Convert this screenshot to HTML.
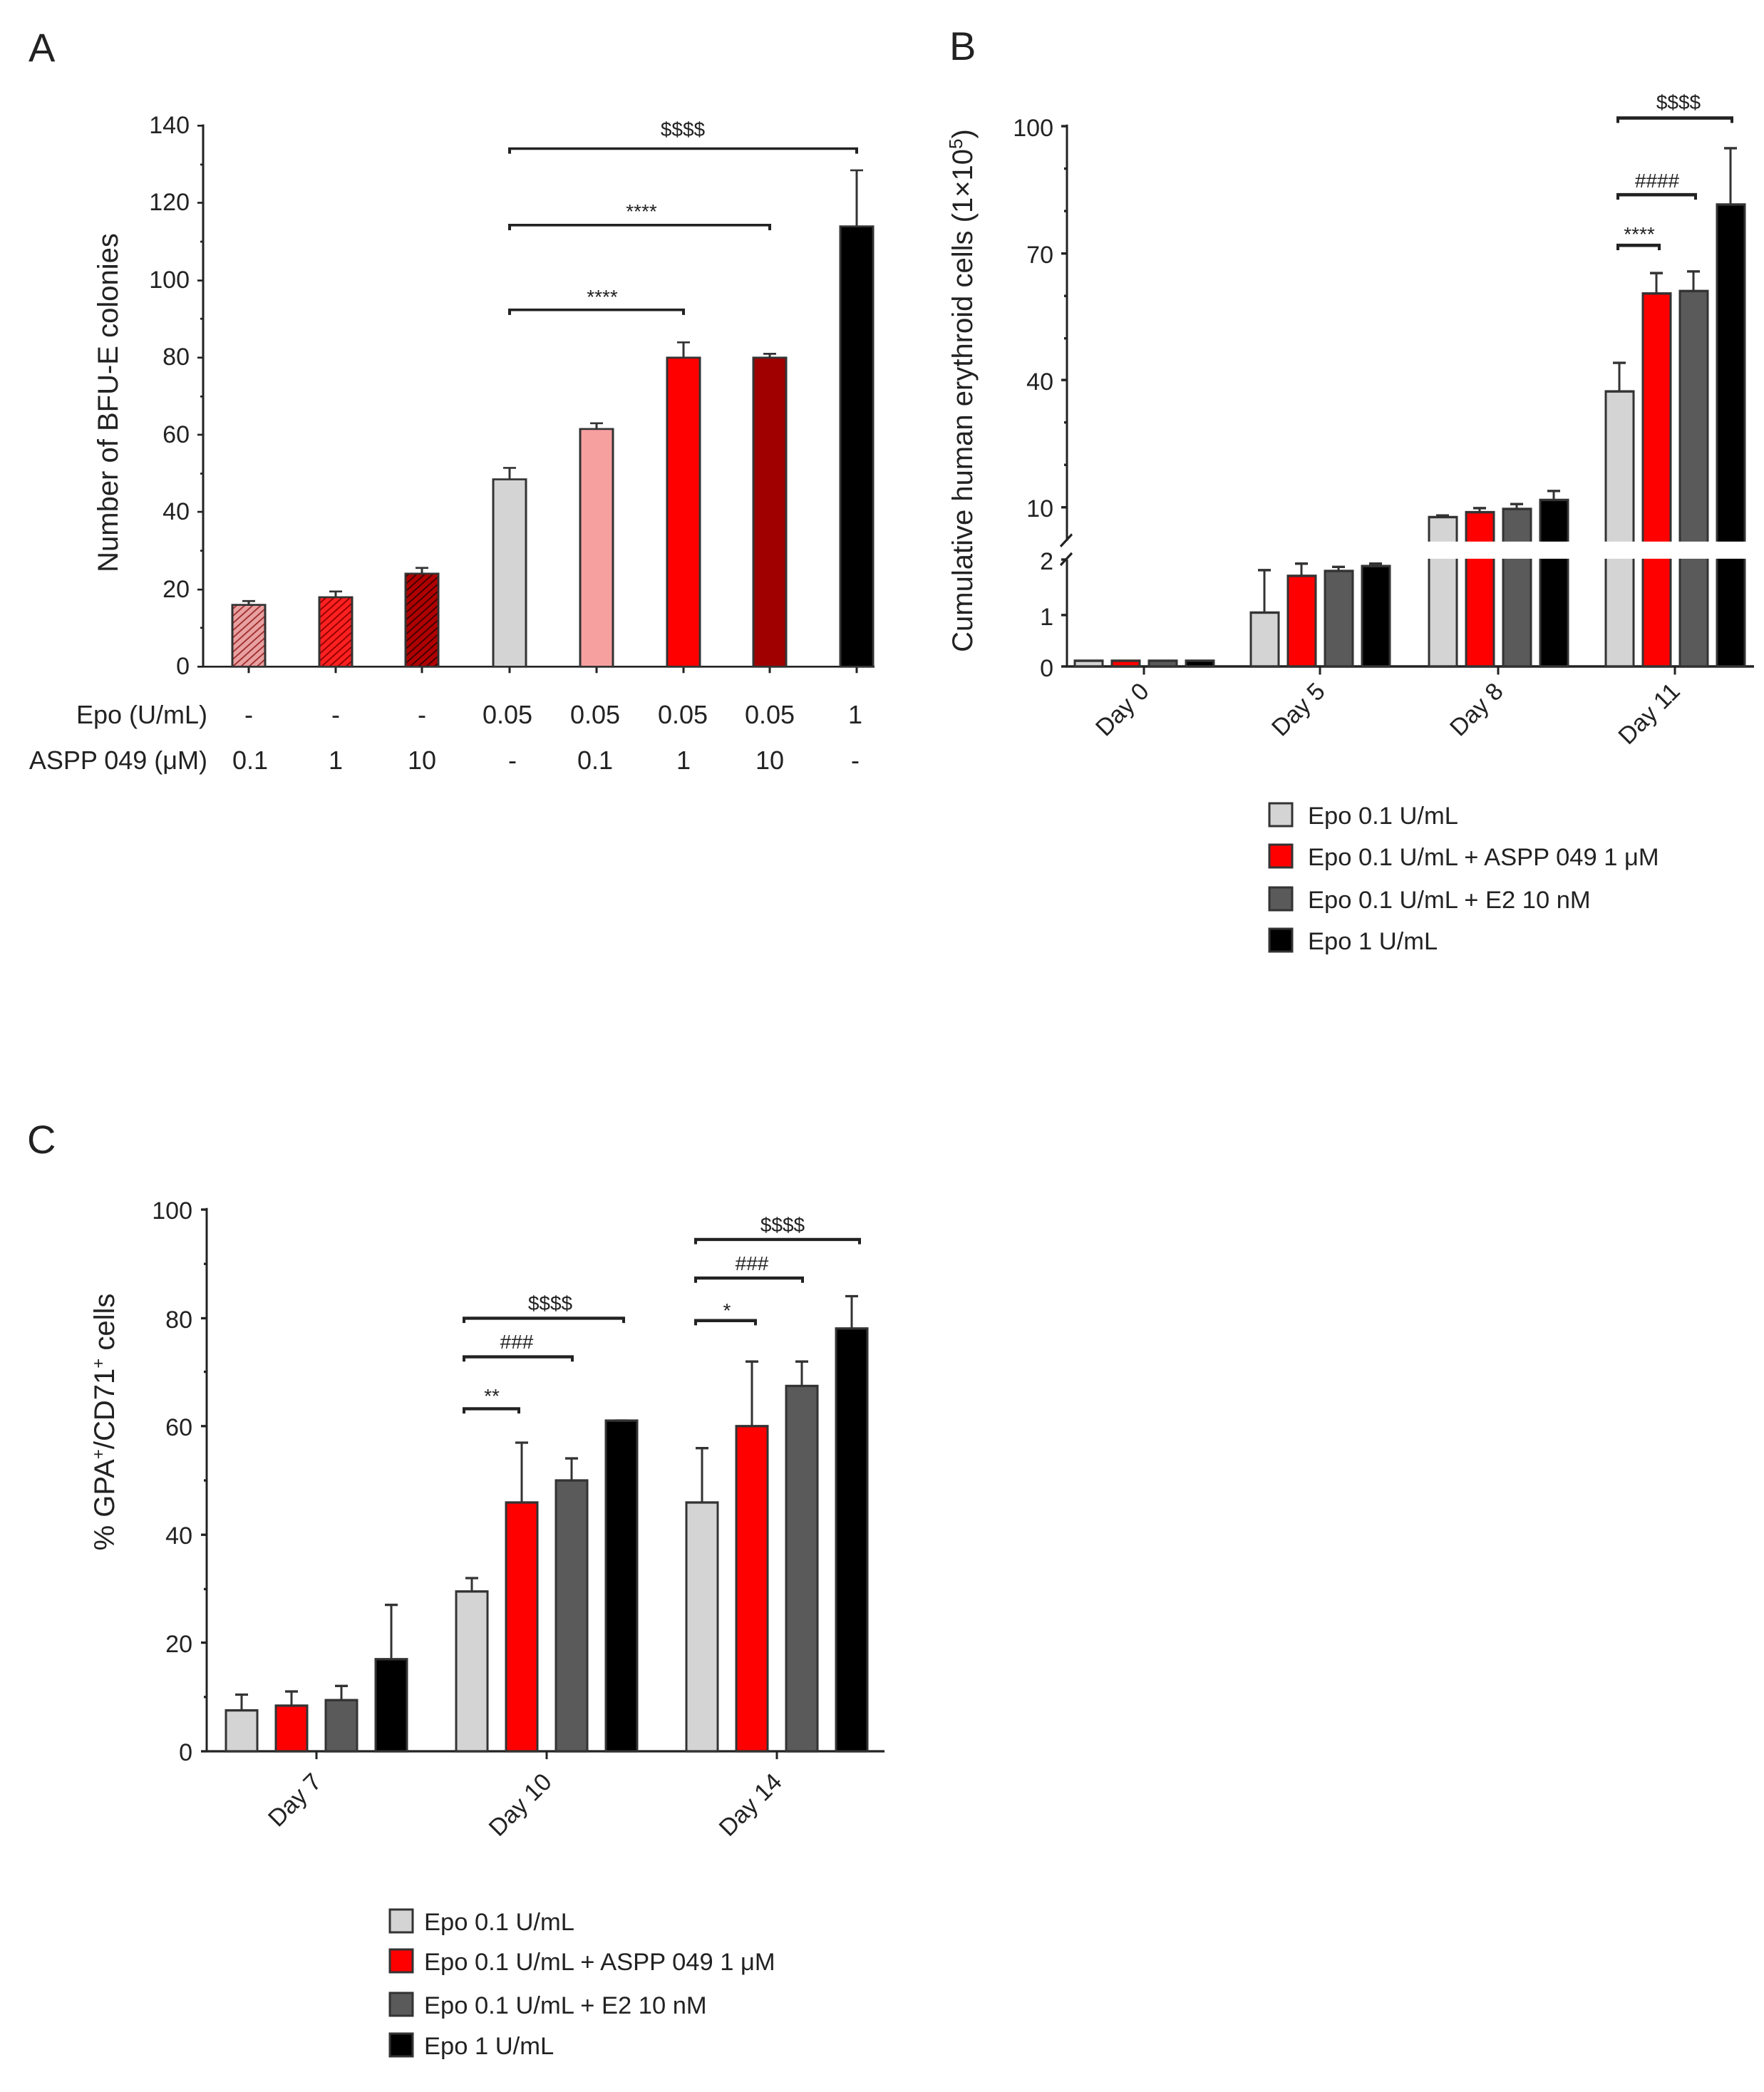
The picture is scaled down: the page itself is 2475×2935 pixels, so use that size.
<!DOCTYPE html>
<html><head><meta charset="utf-8"><style>html,body{margin:0;padding:0;background:#fff}svg{display:block}</style></head>
<body>
<svg width="2475" height="2935" viewBox="0 0 2475 2935" xmlns="http://www.w3.org/2000/svg" font-family="Liberation Sans, Arial, sans-serif" fill="#222">
<defs>
<pattern id="h1" width="8" height="8" patternUnits="userSpaceOnUse" patternTransform="rotate(45)"><rect width="8" height="8" fill="#e8a0a0"/><line x1="0" y1="0" x2="0" y2="8" stroke="#a03030" stroke-width="4"/></pattern>
<pattern id="h2" width="8" height="8" patternUnits="userSpaceOnUse" patternTransform="rotate(45)"><rect width="8" height="8" fill="#ff2020"/><line x1="0" y1="0" x2="0" y2="8" stroke="#900000" stroke-width="4"/></pattern>
<pattern id="h3" width="8" height="8" patternUnits="userSpaceOnUse" patternTransform="rotate(45)"><rect width="8" height="8" fill="#b00000"/><line x1="0" y1="0" x2="0" y2="8" stroke="#400000" stroke-width="4"/></pattern>
</defs>

<!-- ============ PANEL A ============ -->
<text x="40" y="86" font-size="56">A</text>
<g transform="matrix(1 0 0 0.894 0 2)">
<g stroke="#222" stroke-width="3" fill="none">
<line x1="285" y1="193" x2="285" y2="1045"/>
<line x1="284" y1="1044" x2="1227" y2="1044"/>
<line x1="277" y1="195" x2="285" y2="195"/><line x1="277" y1="316" x2="285" y2="316"/><line x1="277" y1="438" x2="285" y2="438"/><line x1="277" y1="559" x2="285" y2="559"/><line x1="277" y1="680" x2="285" y2="680"/><line x1="277" y1="801" x2="285" y2="801"/><line x1="277" y1="923" x2="285" y2="923"/><line x1="277" y1="1044" x2="285" y2="1044"/>
<line x1="281" y1="256" x2="285" y2="256"/><line x1="281" y1="377" x2="285" y2="377"/><line x1="281" y1="498" x2="285" y2="498"/><line x1="281" y1="620" x2="285" y2="620"/><line x1="281" y1="741" x2="285" y2="741"/><line x1="281" y1="862" x2="285" y2="862"/><line x1="281" y1="983" x2="285" y2="983"/>
<line x1="349" y1="1044" x2="349" y2="1054"/><line x1="471" y1="1044" x2="471" y2="1054"/><line x1="592" y1="1044" x2="592" y2="1054"/><line x1="715" y1="1044" x2="715" y2="1054"/><line x1="837" y1="1044" x2="837" y2="1054"/><line x1="959" y1="1044" x2="959" y2="1054"/><line x1="1080" y1="1044" x2="1080" y2="1054"/><line x1="1202" y1="1044" x2="1202" y2="1054"/>
</g>
<g stroke="#333" stroke-width="3">
<rect x="326" y="947" width="46" height="97" fill="url(#h1)"/>
<rect x="448" y="935" width="46" height="109" fill="url(#h2)"/>
<rect x="569" y="898" width="46" height="146" fill="url(#h3)"/>
<rect x="692" y="750" width="46" height="294" fill="#d4d4d4"/>
<rect x="814" y="671" width="46" height="373" fill="#f7a0a0"/>
<rect x="936" y="559" width="46" height="485" fill="#ff0000"/>
<rect x="1057" y="559" width="46" height="485" fill="#a00000"/>
<rect x="1179" y="353" width="46" height="691" fill="#000"/>
</g>
<g stroke="#333" stroke-width="3">
<line x1="349" y1="947" x2="349" y2="941"/><line x1="340" y1="941" x2="358" y2="941"/>
<line x1="471" y1="935" x2="471" y2="926"/><line x1="462" y1="926" x2="480" y2="926"/>
<line x1="592" y1="898" x2="592" y2="889"/><line x1="583" y1="889" x2="601" y2="889"/>
<line x1="715" y1="750" x2="715" y2="732"/><line x1="706" y1="732" x2="724" y2="732"/>
<line x1="837" y1="671" x2="837" y2="662"/><line x1="828" y1="662" x2="846" y2="662"/>
<line x1="959" y1="559" x2="959" y2="535"/><line x1="950" y1="535" x2="968" y2="535"/>
<line x1="1080" y1="559" x2="1080" y2="553"/><line x1="1071" y1="553" x2="1089" y2="553"/>
<line x1="1202" y1="353" x2="1202" y2="265"/><line x1="1193" y1="265" x2="1211" y2="265"/>
</g>
<g stroke="#222" stroke-width="4" fill="none">
<polyline points="715,239 715,231 1202,231 1202,239"/>
<polyline points="715,359 715,351 1080,351 1080,359"/>
<polyline points="715,492 715,484 959,484 959,492"/>
</g>
</g>
<g font-size="34" text-anchor="end">
<text x="266" y="187">140</text><text x="266" y="295">120</text><text x="266" y="404">100</text><text x="266" y="512">80</text><text x="266" y="621">60</text><text x="266" y="729">40</text><text x="266" y="838">20</text><text x="266" y="946">0</text>
</g>
<text transform="translate(165,565) rotate(-90)" font-size="40" text-anchor="middle">Number of BFU-E colonies</text>
<g font-size="28" text-anchor="middle">
<text x="958" y="191">$$$$</text>
<text x="900" y="306">****</text>
<text x="845" y="426">****</text>
</g>
<g font-size="36" text-anchor="middle">
<text x="291" y="1015" text-anchor="end">Epo (U/mL)</text>
<text x="349" y="1015">-</text><text x="471" y="1015">-</text><text x="592" y="1015">-</text><text x="712" y="1015">0.05</text><text x="835" y="1015">0.05</text><text x="958" y="1015">0.05</text><text x="1080" y="1015">0.05</text><text x="1200" y="1015">1</text>
<text x="291" y="1079" text-anchor="end">ASPP 049 (μM)</text>
<text x="351" y="1079">0.1</text><text x="471" y="1079">1</text><text x="592" y="1079">10</text><text x="719" y="1079">-</text><text x="835" y="1079">0.1</text><text x="959" y="1079">1</text><text x="1080" y="1079">10</text><text x="1200" y="1079">-</text>
</g>

<!-- ============ PANEL B ============ -->
<text x="1332" y="84" font-size="56">B</text>
<g transform="matrix(1 0 0 1.145 0 -1.6)">
<g stroke="#222" stroke-width="3" fill="none">
<line x1="1497" y1="154" x2="1497" y2="664"/>
<line x1="1497" y1="687" x2="1497" y2="819"/>
<line x1="1496" y1="818" x2="2461" y2="818"/>
<line x1="1488" y1="671" x2="1504" y2="656"/>
<line x1="1488" y1="694" x2="1504" y2="679"/>
<line x1="1489" y1="156" x2="1497" y2="156"/><line x1="1489" y1="312" x2="1497" y2="312"/><line x1="1489" y1="467" x2="1497" y2="467"/><line x1="1489" y1="623" x2="1497" y2="623"/>
<line x1="1493" y1="208" x2="1497" y2="208"/><line x1="1493" y1="260" x2="1497" y2="260"/><line x1="1493" y1="364" x2="1497" y2="364"/><line x1="1493" y1="416" x2="1497" y2="416"/><line x1="1493" y1="519" x2="1497" y2="519"/><line x1="1493" y1="571" x2="1497" y2="571"/>
<line x1="1489" y1="687" x2="1497" y2="687"/><line x1="1489" y1="755" x2="1497" y2="755"/><line x1="1489" y1="818" x2="1497" y2="818"/>
<line x1="1605" y1="818" x2="1605" y2="828"/><line x1="1852" y1="818" x2="1852" y2="828"/><line x1="2102" y1="818" x2="2102" y2="828"/><line x1="2350" y1="818" x2="2350" y2="828"/>
</g>
<g stroke="#333" stroke-width="3">
<rect x="1508" y="811" width="39" height="7" fill="#d4d4d4"/><rect x="1560" y="811" width="39" height="7" fill="#ff0000"/><rect x="1612" y="811" width="39" height="7" fill="#5a5a5a"/><rect x="1664" y="811" width="39" height="7" fill="#000"/>
<rect x="1755" y="752" width="39" height="66" fill="#d4d4d4"/><rect x="1807" y="707" width="39" height="111" fill="#ff0000"/><rect x="1859" y="701" width="39" height="117" fill="#5a5a5a"/><rect x="1911" y="695" width="39" height="123" fill="#000"/>
<rect x="2005" y="635" width="39" height="183" fill="#d4d4d4"/><rect x="2057" y="629" width="39" height="189" fill="#ff0000"/><rect x="2109" y="625" width="39" height="193" fill="#5a5a5a"/><rect x="2161" y="614" width="39" height="204" fill="#000"/>
<rect x="2253" y="481" width="39" height="337" fill="#d4d4d4"/><rect x="2305" y="361" width="39" height="457" fill="#ff0000"/><rect x="2357" y="358" width="39" height="460" fill="#5a5a5a"/><rect x="2409" y="252" width="39" height="566" fill="#000"/>
</g>
<rect x="1990" y="665" width="475" height="21" fill="#fff"/>
<g stroke="#333" stroke-width="3">
<line x1="1774" y1="752" x2="1774" y2="700"/><line x1="1765" y1="700" x2="1783" y2="700"/>
<line x1="1826" y1="707" x2="1826" y2="692"/><line x1="1817" y1="692" x2="1835" y2="692"/>
<line x1="1878" y1="701" x2="1878" y2="696"/><line x1="1869" y1="696" x2="1887" y2="696"/>
<line x1="1930" y1="695" x2="1930" y2="692"/><line x1="1921" y1="692" x2="1939" y2="692"/>
<line x1="2024" y1="635" x2="2024" y2="633"/><line x1="2015" y1="633" x2="2033" y2="633"/>
<line x1="2076" y1="629" x2="2076" y2="624"/><line x1="2067" y1="624" x2="2085" y2="624"/>
<line x1="2128" y1="625" x2="2128" y2="619"/><line x1="2119" y1="619" x2="2137" y2="619"/>
<line x1="2180" y1="614" x2="2180" y2="603"/><line x1="2171" y1="603" x2="2189" y2="603"/>
<line x1="2272" y1="481" x2="2272" y2="446"/><line x1="2263" y1="446" x2="2281" y2="446"/>
<line x1="2324" y1="361" x2="2324" y2="336"/><line x1="2315" y1="336" x2="2333" y2="336"/>
<line x1="2376" y1="358" x2="2376" y2="334"/><line x1="2367" y1="334" x2="2385" y2="334"/>
<line x1="2428" y1="252" x2="2428" y2="183"/><line x1="2419" y1="183" x2="2437" y2="183"/>
</g>
<g stroke="#222" stroke-width="4" fill="none">
<polyline points="2270,152 2270,146 2430,146 2430,152"/>
<polyline points="2270,246 2270,240 2379,240 2379,246"/>
<polyline points="2270,308 2270,302 2328,302 2328,308"/>
</g>
</g>
<g font-size="34" text-anchor="end">
<text x="1478" y="191">100</text><text x="1478" y="369">70</text><text x="1478" y="547">40</text><text x="1478" y="725">10</text>
<text x="1478" y="799">2</text><text x="1478" y="877">1</text><text x="1478" y="949">0</text>
</g>
<text transform="translate(1364,548) rotate(-90)" font-size="40" text-anchor="middle">Cumulative human erythroid cells (1×10<tspan dy="-14" font-size="26">5</tspan><tspan dy="14">)</tspan></text>
<g font-size="28" text-anchor="middle">
<text x="2355" y="153">$$$$</text>
<text x="2325" y="263">####</text>
<text x="2300" y="338">****</text>
</g>
<g font-size="34" text-anchor="end">
<text transform="translate(1614,972) rotate(-45)">Day 0</text>
<text transform="translate(1861,972) rotate(-45)">Day 5</text>
<text transform="translate(2111,972) rotate(-45)">Day 8</text>
<text transform="translate(2359,972) rotate(-45)">Day 11</text>
</g>
<g stroke="#333" stroke-width="3">
<rect x="1781" y="1127" width="32" height="32" fill="#d4d4d4"/>
<rect x="1781" y="1185" width="32" height="32" fill="#ff0000"/>
<rect x="1781" y="1245" width="32" height="32" fill="#5a5a5a"/>
<rect x="1781" y="1303" width="32" height="32" fill="#000"/>
</g>
<g font-size="34.5">
<text x="1835" y="1156">Epo 0.1 U/mL</text>
<text x="1835" y="1214">Epo 0.1 U/mL + ASPP 049 1 μM</text>
<text x="1835" y="1274">Epo 0.1 U/mL + E2 10 nM</text>
<text x="1835" y="1332">Epo 1 U/mL</text>
</g>

<!-- ============ PANEL C ============ -->
<text x="38" y="1618" font-size="56">C</text>
<g transform="matrix(1 0 0 1.1047 0 -156.7)">
<g stroke="#222" stroke-width="3" fill="none">
<line x1="290" y1="1676" x2="290" y2="2367"/>
<line x1="289" y1="2366" x2="1241" y2="2366"/>
<line x1="282" y1="1678" x2="290" y2="1678"/><line x1="282" y1="1816" x2="290" y2="1816"/><line x1="282" y1="1953" x2="290" y2="1953"/><line x1="282" y1="2091" x2="290" y2="2091"/><line x1="282" y1="2228" x2="290" y2="2228"/><line x1="282" y1="2366" x2="290" y2="2366"/>
<line x1="286" y1="1747" x2="290" y2="1747"/><line x1="286" y1="1884" x2="290" y2="1884"/><line x1="286" y1="2022" x2="290" y2="2022"/><line x1="286" y1="2160" x2="290" y2="2160"/><line x1="286" y1="2297" x2="290" y2="2297"/>
<line x1="444" y1="2366" x2="444" y2="2376"/><line x1="767" y1="2366" x2="767" y2="2376"/><line x1="1090" y1="2366" x2="1090" y2="2376"/>
</g>
<g stroke="#333" stroke-width="3">
<rect x="317" y="2314" width="44" height="52" fill="#d4d4d4"/><rect x="387" y="2308" width="44" height="58" fill="#ff0000"/><rect x="457" y="2301" width="44" height="65" fill="#5a5a5a"/><rect x="527" y="2249" width="44" height="117" fill="#000"/>
<rect x="640" y="2163" width="44" height="203" fill="#d4d4d4"/><rect x="710" y="2050" width="44" height="316" fill="#ff0000"/><rect x="780" y="2022" width="44" height="344" fill="#5a5a5a"/><rect x="850" y="1946" width="44" height="420" fill="#000"/>
<rect x="963" y="2050" width="44" height="316" fill="#d4d4d4"/><rect x="1033" y="1953" width="44" height="413" fill="#ff0000"/><rect x="1103" y="1902" width="44" height="464" fill="#5a5a5a"/><rect x="1173" y="1829" width="44" height="537" fill="#000"/>
</g>
<g stroke="#333" stroke-width="3">
<line x1="339" y1="2314" x2="339" y2="2294"/><line x1="330" y1="2294" x2="348" y2="2294"/>
<line x1="409" y1="2308" x2="409" y2="2290"/><line x1="400" y1="2290" x2="418" y2="2290"/>
<line x1="479" y1="2301" x2="479" y2="2283"/><line x1="470" y1="2283" x2="488" y2="2283"/>
<line x1="549" y1="2249" x2="549" y2="2180"/><line x1="540" y1="2180" x2="558" y2="2180"/>
<line x1="662" y1="2163" x2="662" y2="2146"/><line x1="653" y1="2146" x2="671" y2="2146"/>
<line x1="732" y1="2050" x2="732" y2="1974"/><line x1="723" y1="1974" x2="741" y2="1974"/>
<line x1="802" y1="2022" x2="802" y2="1994"/><line x1="793" y1="1994" x2="811" y2="1994"/>
<line x1="863" y1="1946" x2="881" y2="1946"/>
<line x1="985" y1="2050" x2="985" y2="1981"/><line x1="976" y1="1981" x2="994" y2="1981"/>
<line x1="1055" y1="1953" x2="1055" y2="1871"/><line x1="1046" y1="1871" x2="1064" y2="1871"/>
<line x1="1125" y1="1902" x2="1125" y2="1871"/><line x1="1116" y1="1871" x2="1134" y2="1871"/>
<line x1="1195" y1="1829" x2="1195" y2="1788"/><line x1="1186" y1="1788" x2="1204" y2="1788"/>
</g>
<g stroke="#222" stroke-width="4" fill="none">
<polyline points="651,1822 651,1816 875,1816 875,1822"/>
<polyline points="651,1871 651,1865 803,1865 803,1871"/>
<polyline points="651,1937 651,1931 728,1931 728,1937"/>
<polyline points="976,1722 976,1716 1206,1716 1206,1722"/>
<polyline points="976,1771 976,1765 1126,1765 1126,1771"/>
<polyline points="976,1825 976,1819 1060,1819 1060,1825"/>
</g>
</g>
<g font-size="34" text-anchor="end">
<text x="270" y="1710">100</text><text x="270" y="1863">80</text><text x="270" y="2014">60</text><text x="270" y="2166">40</text><text x="270" y="2318">20</text><text x="270" y="2470">0</text>
</g>
<text transform="translate(160,1995) rotate(-90)" font-size="40" text-anchor="middle">% GPA<tspan dy="-14" font-size="24">+</tspan><tspan dy="14">/CD71</tspan><tspan dy="-14" font-size="24">+</tspan><tspan dy="14"> cells</tspan></text>
<g font-size="28" text-anchor="middle">
<text x="772" y="1838">$$$$</text>
<text x="725" y="1892">###</text>
<text x="690" y="1968">**</text>
<text x="1098" y="1728">$$$$</text>
<text x="1055" y="1782">###</text>
<text x="1020" y="1848">*</text>
</g>
<g font-size="34" text-anchor="end">
<text transform="translate(453,2502) rotate(-45)">Day 7</text>
<text transform="translate(776,2502) rotate(-45)">Day 10</text>
<text transform="translate(1099,2502) rotate(-45)">Day 14</text>
</g>
<g stroke="#333" stroke-width="3">
<rect x="547" y="2679" width="32" height="32" fill="#d4d4d4"/>
<rect x="547" y="2735" width="32" height="32" fill="#ff0000"/>
<rect x="547" y="2796" width="32" height="32" fill="#5a5a5a"/>
<rect x="547" y="2853" width="32" height="32" fill="#000"/>
</g>
<g font-size="34.5">
<text x="595" y="2708">Epo 0.1 U/mL</text>
<text x="595" y="2764">Epo 0.1 U/mL + ASPP 049 1 μM</text>
<text x="595" y="2825">Epo 0.1 U/mL + E2 10 nM</text>
<text x="595" y="2882">Epo 1 U/mL</text>
</g>
</svg>
</body></html>
